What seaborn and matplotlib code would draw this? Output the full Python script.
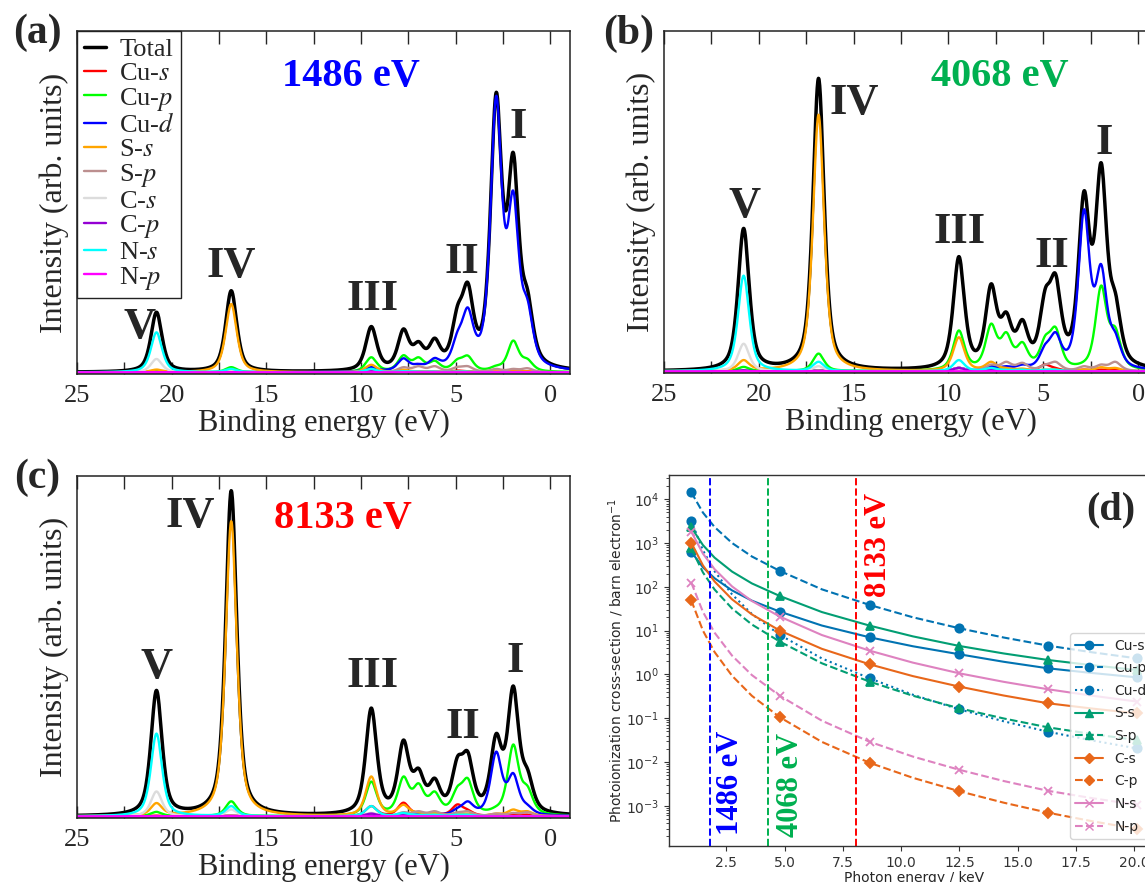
import numpy as np
import matplotlib
matplotlib.use("Agg")
import matplotlib.pyplot as plt
import seaborn as sns
from matplotlib.lines import Line2D
from matplotlib.ticker import MultipleLocator
from matplotlib.font_manager import FontProperties

sns.set_style("ticks")
plt.rcParams["font.family"] = ["DejaVu Sans"]
SERIF = "Liberation Serif"

# ---------------- PDOS spectra (a)-(c) ----------------
# peak positions (binding energy, eV) shared by every curve
PEAK_CENTERS = [20.8, 16.85, 9.45, 7.75, 6.95, 6.1, 4.9, 4.35, 2.85, 1.95, 1.2]

ORBITALS = ["Total", "Cu-s", "Cu-p", "Cu-d", "S-s", "S-p", "C-s", "C-p", "N-s", "N-p"]
LEGEND_LABELS = ["Total", "Cu-$s$", "Cu-$p$", "Cu-$d$", "S-$s$", "S-$p$",
                 "C-$s$", "C-$p$", "N-$s$", "N-$p$"]
PDOS_COLORS = ["#000000", "#ff0000", "#00ff00", "#0000ff", "#ffa500",
               "#bc8f8f", "#dcdcdc", "#9400d3", "#00ffff", "#ff00ff"]

# heights read at each peak position (% of panel height)
a_total = [17.6, 23.9, 13.4, 12.7, 9.0, 10.0, 19.5, 26.3, 82.0, 64.4, 24.4]
a_cu_s = [0, 0, 0.3, 0.4, 0.2, 0.2, 0.5, 0.3, 0.2, 0.3, 0.3]
a_cu_p = [0.5, 1.5, 4.4, 5.0, 4.4, 3.4, 3.9, 4.9, 2.0, 9.3, 4.0]
a_cu_d = [0, 0, 1.5, 4.1, 2.5, 4.2, 12.0, 19.0, 81.0, 53.2, 21.5]
a_s_s = [0.8, 20.0, 2.2, 0.8, 0.3, 0.2, 0.3, 0.3, 0.2, 0.3, 0.3]
a_s_p = [0, 0, 0.5, 1.5, 1.8, 1.8, 1.6, 1.8, 1.0, 1.0, 1.2]
a_c_s = [3.9, 0.5, 0.5, 0.2, 0.1, 0.1, 0.1, 0.1, 0, 0, 0]
a_c_p = [0, 0, 0.3, 0.2, 0.1, 0.1, 0.1, 0.1, 0, 0, 0]
a_n_s = [11.7, 1.0, 1.0, 0.3, 0.2, 0.2, 0.2, 0.2, 0, 0, 0]
a_n_p = [0, 0, 0, 0, 0, 0, 0, 0, 0, 0, 0]

b_total = [42.0, 86.1, 33.7, 25.7, 17.4, 15.2, 24.2, 28.6, 53.0, 61.3, 23.2]
b_cu_s = [0.2, 0.2, 1.0, 1.0, 0.5, 0.5, 2.0, 1.0, 0.5, 0.5, 0.5]
b_cu_p = [1.3, 5.2, 12.0, 14.0, 11.5, 8.6, 10.5, 13.0, 3.0, 25.2, 13.0]
b_cu_d = [0.2, 0.3, 1.0, 1.5, 1.5, 2.0, 8.0, 11.5, 47.6, 31.5, 11.5]
b_s_s = [3.3, 75.4, 10.0, 2.8, 1.0, 0.8, 0.5, 0.5, 0.5, 1.2, 1.0]
b_s_p = [0, 0.3, 1.0, 2.0, 2.8, 2.5, 2.0, 2.8, 1.5, 2.0, 2.8]
b_c_s = [8.1, 1.5, 1.0, 0.3, 0.2, 0.2, 0.2, 0.2, 0, 0, 0]
b_c_p = [0, 0, 1.0, 0.5, 0.3, 0.3, 0.3, 0.3, 0, 0, 0]
b_n_s = [28.1, 2.8, 3.3, 1.0, 0.5, 0.5, 0.5, 0.5, 0, 0, 0]
b_n_p = [0, 0, 0, 0, 0, 0, 0, 0, 0, 0, 0]

c_total = [37.0, 95.7, 31.8, 22.4, 14.1, 11.2, 17.5, 19.0, 24.3, 38.3, 14.0]
c_cu_s = [0.2, 0.2, 3.0, 4.0, 1.0, 1.0, 3.5, 2.0, 0.5, 0.5, 0.5]
c_cu_p = [1.3, 4.4, 10.2, 11.7, 9.7, 7.3, 8.8, 11.2, 3.0, 21.1, 9.0]
c_cu_d = [0, 0.1, 0.5, 0.8, 0.5, 0.8, 2.5, 4.4, 19.0, 12.7, 3.5]
c_s_s = [3.9, 86.7, 11.7, 3.4, 1.2, 1.0, 0.8, 0.8, 0.8, 2.0, 1.5]
c_s_p = [0, 0.3, 0.8, 1.2, 1.5, 1.5, 1.2, 1.5, 0.8, 1.0, 1.2]
c_c_s = [7.3, 2.0, 1.0, 0.3, 0.2, 0.2, 0.2, 0.2, 0, 0, 0]
c_c_p = [0, 0, 0.8, 0.5, 0.2, 0.2, 0.2, 0.2, 0, 0, 0]
c_n_s = [24.3, 3.0, 3.0, 1.0, 0.5, 0.5, 0.5, 0.5, 0, 0, 0]
c_n_p = [0, 0, 0, 0, 0, 0, 0, 0, 0, 0, 0]

# ---------------- cross sections (d) ----------------
CURVE_ENERGY = [1.0, 1.5, 2.0, 2.75, 3.6, 4.8, 6.6, 8.65, 10.5, 12.5, 14.4, 16.3, 18.2, 20.1]
MARKER_IDX = [0, 5, 7, 9, 11, 13]
# log10(cross-section / barn electron^-1)
cu_s_log = [2.80, 2.447, 2.196, 1.918, 1.684, 1.433, 1.116, 0.847, 0.643, 0.459, 0.288, 0.139, 0.031, -0.067]
cu_p_log = [4.16, 3.696, 3.366, 3.001, 2.693, 2.363, 1.943, 1.586, 1.305, 1.053, 0.842, 0.657, 0.504, 0.367]
cu_d_log = [3.51, 2.835, 2.357, 1.827, 1.379, 0.90, 0.365, -0.09, -0.464, -0.80, -1.072, -1.31, -1.51, -1.69]
s_s_log = [3.36, 2.954, 2.666, 2.348, 2.078, 1.79, 1.424, 1.114, 0.869, 0.649, 0.478, 0.329, 0.209, 0.10]
s_p_log = [2.88, 2.329, 1.938, 1.505, 1.139, 0.748, 0.254, -0.166, -0.487, -0.775, -1.007, -1.21, -1.363, -1.50]
c_s_log = [3.01, 2.49, 2.122, 1.714, 1.369, 1.00, 0.584, 0.23, -0.039, -0.28, -0.483, -0.66, -0.781, -0.89]
c_p_log = [1.69, 1.0, 0.51, -0.032, -0.49, -0.98, -1.542, -2.02, -2.362, -2.67, -2.931, -3.16, -3.355, -3.53]
n_s_log = [3.26, 2.759, 2.403, 2.009, 1.676, 1.32, 0.899, 0.542, 0.269, 0.024, -0.17, -0.34, -0.487, -0.62]
n_p_log = [2.096, 1.428, 0.953, 0.428, -0.016, -0.49, -1.058, -1.54, -1.877, -2.18, -2.436, -2.66, -2.828, -2.98]
PHOTON_LINES = [1.79, 4.29, 8.06]  # keV, where the dashed markers sit


def pvoigt(d, hw=0.35, eta=0.6):
    r = (d / hw) ** 2
    return eta / (1 + r) + (1 - eta) * np.exp(-np.log(2) * r)


def broadened(heights, e):
    """Peak amplitudes chosen so the curve passes through the read heights."""
    c = np.array(PEAK_CENTERS)
    m = pvoigt(c[:, None] - c[None, :])
    amp = np.clip(np.linalg.solve(m, np.array(heights, float)), 0, None)
    return (amp[None, :] * pvoigt(e[:, None] - c[None, :])).sum(axis=1)


def spectrum_panel(ax, curves, energy_text, energy_color, energy_xy, numerals, legend=False):
    e = np.linspace(-1.05, 25, 1600)
    for name, col in zip(ORBITALS, PDOS_COLORS):
        y = broadened(curves[name], e)
        sns.lineplot(x=e, y=y, ax=ax, color=col, lw=2.5 if name == "Total" else 1.7,
                     sort=False, estimator=None, legend=False)
    ax.set_xlim(25, -1.05)
    ax.set_ylim(-0.5, 100)
    ax.xaxis.set_major_locator(MultipleLocator(5))
    ax.xaxis.set_minor_locator(MultipleLocator(2.5))
    ax.tick_params(axis="x", which="both", direction="in", top=True, bottom=True,
                   length=9, width=1, labelsize=19, labelfontfamily=SERIF, pad=8)
    ax.set_yticks([])
    for s in ax.spines.values():
        s.set_color("#222222")
        s.set_linewidth(1.1)
    ax.set_xlabel("Binding energy (eV)", family=SERIF, fontsize=22, labelpad=1)
    ax.set_ylabel("Intensity (arb. units)", family=SERIF, fontsize=23, labelpad=6)
    ax.text(energy_xy[0], energy_xy[1], energy_text, color=energy_color, family=SERIF,
            fontweight="bold", fontsize=29, ha="center", va="center", transform=ax.transAxes)
    for txt, x, y in numerals:
        ax.text(x, y, txt, family=SERIF, fontweight="bold", fontsize=32,
                ha="center", va="center")
    if legend:
        handles = [Line2D([], [], color=c, lw=2.5 if i == 0 else 1.7)
                   for i, c in enumerate(PDOS_COLORS)]
        prop = FontProperties(family=SERIF, size=19, math_fontfamily="stix")
        leg = ax.legend(handles, LEGEND_LABELS, loc="upper left", bbox_to_anchor=(0, 1),
                        borderaxespad=0, prop=prop, handlelength=0.85, handletextpad=0.5,
                        labelspacing=0.02, borderpad=0.25, fancybox=False, framealpha=1,
                        edgecolor="#222222")
        leg.get_frame().set_linewidth(1.0)


fig = plt.figure(figsize=(11.45, 8.82), dpi=100)
W, H = 1145, 882


def px_axes(left, top, right, bottom):
    return fig.add_axes([left / W, 1 - bottom / H, (right - left) / W, (bottom - top) / H])


ax_a = px_axes(77, 31, 570, 374)
ax_b = px_axes(664, 31, 1158, 373)
ax_c = px_axes(77, 476, 570, 818)
ax_d = px_axes(669, 475, 1159, 846)

panels = {
    "a": dict(zip(ORBITALS, [a_total, a_cu_s, a_cu_p, a_cu_d, a_s_s, a_s_p, a_c_s, a_c_p, a_n_s, a_n_p])),
    "b": dict(zip(ORBITALS, [b_total, b_cu_s, b_cu_p, b_cu_d, b_s_s, b_s_p, b_c_s, b_c_p, b_n_s, b_n_p])),
    "c": dict(zip(ORBITALS, [c_total, c_cu_s, c_cu_p, c_cu_d, c_s_s, c_s_p, c_c_s, c_c_p, c_n_s, c_n_p])),
}

spectrum_panel(ax_a, panels["a"], "1486 eV", "#0000ff", (0.555, 0.866),
               [("V", 21.7, 13.4), ("IV", 16.86, 31.0), ("III", 9.4, 21.6),
                ("II", 4.65, 32.4), ("I", 1.7, 72.0)], legend=True)
spectrum_panel(ax_b, panels["b"], "4068 eV", "#00b050", (0.68, 0.866),
               [("V", 20.75, 48.7), ("IV", 14.95, 78.9), ("III", 9.42, 40.8),
                ("II", 4.57, 34.0), ("I", 1.8, 67.2)])
spectrum_panel(ax_c, panels["c"], "8133 eV", "#ff0000", (0.54, 0.876),
               [("V", 20.77, 43.8), ("IV", 19.0, 88.1), ("III", 9.4, 41.3),
                ("II", 4.61, 26.2), ("I", 1.82, 45.7)])

for lbl, x, y in [("(a)", 37, 33), ("(b)", 629, 34), ("(c)", 37, 478)]:
    fig.text(x / W, 1 - y / H, lbl, family=SERIF, fontweight="bold", fontsize=30,
             ha="center", va="center")

# ---------------- panel (d) ----------------
pal = sns.color_palette("colorblind")
cs_series = [
    ("Cu-s", cu_s_log, pal[0], "-", "o"),
    ("Cu-p", cu_p_log, pal[0], "--", "o"),
    ("Cu-d", cu_d_log, pal[0], ":", "o"),
    ("S-s", s_s_log, pal[2], "-", "^"),
    ("S-p", s_p_log, pal[2], "--", "^"),
    ("C-s", c_s_log, "#e8671a", "-", "D"),
    ("C-p", c_p_log, "#e8671a", "--", "D"),
    ("N-s", n_s_log, "#de82c0", "-", "x"),
    ("N-p", n_p_log, "#de82c0", "--", "x"),
]
ex = np.array(CURVE_ENERGY)
d_handles = []
for name, logs, col, ls, mk in cs_series:
    vals = np.power(10.0, logs)
    sns.lineplot(x=ex, y=vals, ax=ax_d, color=col, linestyle=ls, lw=1.5,
                 sort=False, estimator=None, legend=False)
    ax_d.plot(ex[MARKER_IDX], vals[MARKER_IDX], ls="none", marker=mk, color=col,
              ms=6 if mk != "D" else 5.5, mew=1.3)
    d_handles.append(Line2D([], [], color=col, ls=ls, marker=mk, lw=1.5,
                            ms=6 if mk != "D" else 5.5, label=name))

ax_d.set_yscale("log")
ax_d.set_xlim(0.045, 21.055)
ax_d.set_ylim(10 ** -3.92, 10 ** 4.555)
for xv, col in zip(PHOTON_LINES, ["#0000ff", "#00b050", "#ff0000"]):
    ax_d.axvline(xv, color=col, ls="--", lw=1.4)
ax_d.text(2.70, 10 ** -2.47, "1486 eV", rotation=90, color="#0000ff", family=SERIF,
          fontweight="bold", fontsize=22, ha="center", va="center")
ax_d.text(5.25, 10 ** -2.53, "4068 eV", rotation=90, color="#00b050", family=SERIF,
          fontweight="bold", fontsize=22, ha="center", va="center")
ax_d.text(9.04, 10 ** 2.955, "8133 eV", rotation=90, color="#ff0000", family=SERIF,
          fontweight="bold", fontsize=22, ha="center", va="center")
ax_d.text(19.0, 10 ** 3.755, "(d)", family=SERIF, fontweight="bold", fontsize=29,
          ha="center", va="center")
ax_d.set_xlabel("Photon energy / keV", fontsize=10, labelpad=1)
ax_d.set_ylabel("Photoionization cross-section / barn electron$^{-1}$", fontsize=10,
                labelpad=0)
ax_d.tick_params(labelsize=10, colors="#333333")
for s in ax_d.spines.values():
    s.set_color("#333333")
    s.set_linewidth(1.0)
ax_d.legend(handles=d_handles, loc="lower right", fontsize=10, framealpha=0.8,
            labelspacing=0.62)

fig.savefig("out.png", dpi=100)
